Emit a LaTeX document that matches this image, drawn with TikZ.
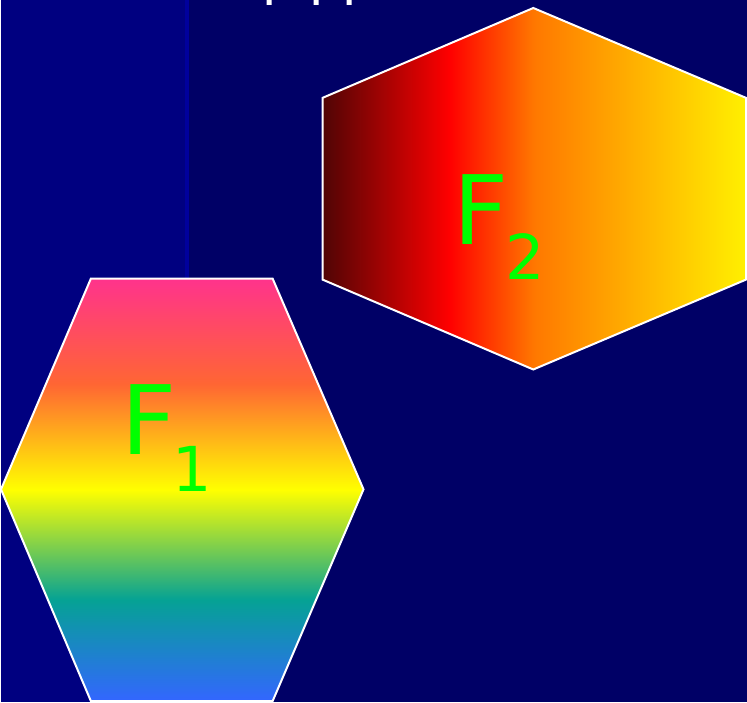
\documentclass[tikz,border=0pt]{standalone}
\usepackage{fontspec}
\newfontfamily\labelfont{DejaVu Sans}
\definecolor{bgleft}{HTML}{000080}
\definecolor{bgright}{HTML}{000066}
\definecolor{bgline}{HTML}{00009C}
\definecolor{labelgreen}{HTML}{00FF00}
\pgfdeclareverticalshading{rainbowF}{100bp}{color(0bp)=(blue!60!cyan); color(25bp)=(rgb,255:red,51;green,102;blue,255);
  color(37bp)=(rgb,255:red,5;green,162;blue,148); color(50bp)=(rgb,255:red,255;green,255;blue,0);
  color(62.5bp)=(rgb,255:red,255;green,102;blue,51); color(75bp)=(rgb,255:red,255;green,51;blue,140); color(100bp)=(rgb,255:red,255;green,51;blue,140)}
\pgfdeclarehorizontalshading{fireF}{100bp}{color(0bp)=(rgb,255:red,80;green,5;blue,5); color(25bp)=(rgb,255:red,80;green,5;blue,5);
  color(40bp)=(rgb,255:red,255;green,0;blue,0); color(50bp)=(rgb,255:red,255;green,120;blue,0);
  color(75bp)=(rgb,255:red,255;green,240;blue,0); color(100bp)=(rgb,255:red,255;green,240;blue,0)}
\begin{document}
\begin{tikzpicture}[x=1pt, y=1pt,
  hexline/.style={draw=white, line width=2pt, line join=miter},
  labeltext/.style={text=labelgreen, inner sep=0pt, anchor=base west, font=\labelfont\fontsize{96}{96}\selectfont}]
  % background
  \fill[bgright] (0,0) rectangle (747,703);
  \fill[bgleft] (0,0) rectangle (184,703);
  \fill[bgline] (184,0) rectangle (188,703);
  % bits of the cut-off title
  \fill[white] (266,698) rectangle (271,703) (313,698) rectangle (318,703) (346,698) rectangle (351,703);
  % hexagon F1
  \path[hexline, shading=rainbowF] (90,424) -- (272,424) -- (363,213) -- (272,1) -- (90,1) -- (0,213) -- cycle;
  \node[labeltext] (fone) at (120.6,248) {F\kern-4pt\raisebox{-37pt}{\fontsize{62}{62}\selectfont 1}};
  % hexagon F2
  \path[hexline, shading=fireF] (533,695) -- (746,605) -- (746,423) -- (533,333) -- (322,423) -- (322,605) -- cycle;
  \node[labeltext] (ftwo) at (452.6,458) {F\kern-3pt\raisebox{-35pt}{\fontsize{62}{62}\selectfont 2}};
  \useasboundingbox (0,0) rectangle (747,703);
\end{tikzpicture}
\end{document}
